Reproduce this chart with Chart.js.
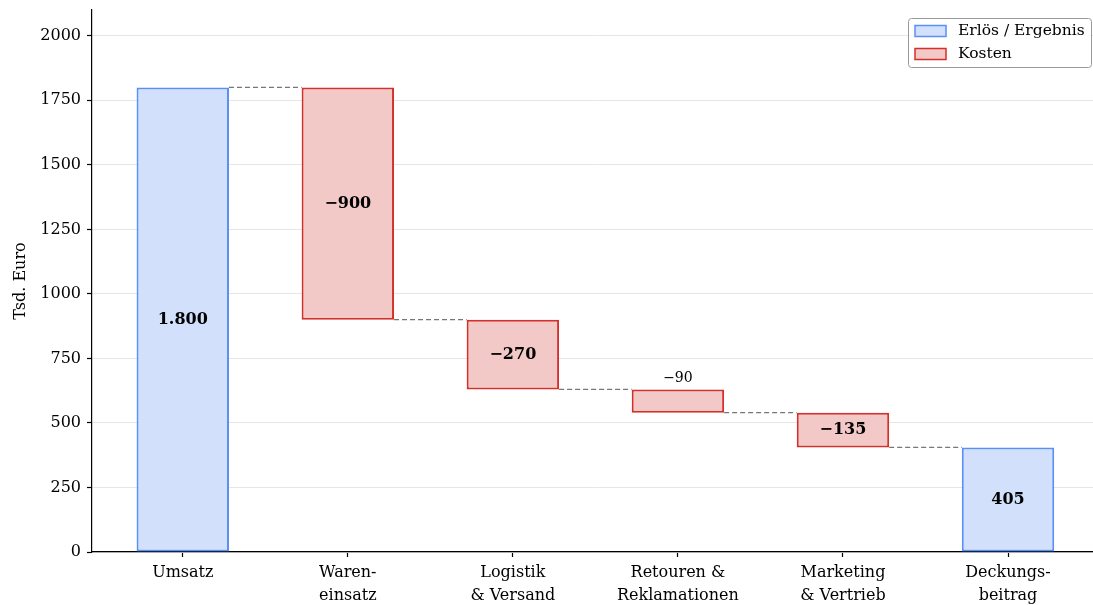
<!DOCTYPE html>
<html lang="de">
<head>
<meta charset="utf-8">
<title>Deckungsbeitrag</title>
<script src="https://cdn.jsdelivr.net/npm/chart.js@4.4.1/dist/chart.umd.min.js"></script>
<style>
  html, body { margin: 0; padding: 0; background: #fff; }
  #wrap { width: 1093px; height: 605px; }
</style>
</head>
<body>
<div id="wrap"><canvas id="chart" width="1093" height="605"></canvas></div>
<script>
// ==========================================
// DATEN
// ==========================================
const kategorien = [
  ['Umsatz'],
  ['Waren-', 'einsatz'],
  ['Logistik', '& Versand'],
  ['Retouren &', 'Reklamationen'],
  ['Marketing', '& Vertrieb'],
  ['Deckungs-', 'beitrag']
];
const werte = [1800, -900, -270, -90, -135, 405];
const istSumme = [true, false, false, false, false, true];   // true = Erlös / Ergebnis
const yTicks = [0, 250, 500, 750, 1000, 1250, 1500, 1750, 2000];
const yMax = 2100;

const FONT = "'DejaVu Serif', serif";
const BLAU = { fill: '#d2e0fc', rand: '#5a8ff5' };
const ROT = { fill: '#f2c9c7', rand: '#d42f2a' };

// Laufende Summe -> schwebende Balken [von, bis]
const spannen = [];
let stand = 0;
werte.forEach((w, i) => {
  if (istSumme[i]) {
    spannen.push([0, w]);
    stand = w;
  } else {
    spannen.push([stand, stand + w]);
    stand += w;
  }
});

const erloesDaten = [];
const kostenDaten = [];
spannen.forEach((s, i) => {
  (istSumme[i] ? erloesDaten : kostenDaten).push({ x: i, y: s });
});

// Gestrichelte Verbinder zwischen den Balken (null trennt die Segmente)
const halbeBreite = 0.28;
const verbinder = [];
for (let i = 0; i < spannen.length - 1; i++) {
  const niveau = spannen[i][1];
  verbinder.push({ x: i + halbeBreite, y: niveau });
  verbinder.push({ x: i + 1 - halbeBreite, y: niveau });
  verbinder.push({ x: i + 0.5, y: null });
}

function formatWert(w) {
  const betrag = Math.abs(w).toLocaleString('de-DE');
  return (w < 0 ? '\u2212' : '') + betrag;
}

// keine automatischen Randabstände der Achsen
function ohneRand(s) {
  s.paddingTop = 0;
  s.paddingBottom = 0;
  s.paddingLeft = 0;
  s.paddingRight = 0;
}

// ==========================================
// PLUGINS: Beschriftung + Legende
// ==========================================
const wertLabels = {
  id: 'wertLabels',
  afterDatasetsDraw(chart) {
    const ctx = chart.ctx;
    const xs = chart.scales.x, ys = chart.scales.y;
    ctx.save();
    ctx.fillStyle = '#000';
    ctx.textAlign = 'center';
    ctx.textBaseline = 'middle';
    spannen.forEach((s, i) => {
      const x = xs.getPixelForValue(i);
      const yA = ys.getPixelForValue(s[0]);
      const yB = ys.getPixelForValue(s[1]);
      const hoehe = Math.abs(yA - yB);
      const text = formatWert(werte[i]);
      if (hoehe < 30) {
        // zu schmal: Wert oberhalb des Balkens
        ctx.font = '14px ' + FONT;
        ctx.fillText(text, x, Math.min(yA, yB) - 11);
      } else {
        ctx.font = 'bold 16px ' + FONT;
        ctx.fillText(text, x, (yA + yB) / 2);
      }
    });
    ctx.restore();
  }
};

const legendeBox = {
  id: 'legendeBox',
  afterDraw(chart) {
    const ctx = chart.ctx;
    const area = chart.chartArea;
    const eintraege = chart.data.datasets.filter(d => d.type !== 'line');
    const w = 183, h = 49;
    const x0 = area.right - w - 2, y0 = 18;
    ctx.save();
    ctx.beginPath();
    ctx.roundRect(x0 + 0.5, y0 + 0.5, w, h, 3);
    ctx.fillStyle = 'rgba(255,255,255,0.85)';
    ctx.fill();
    ctx.strokeStyle = '#999';
    ctx.lineWidth = 1;
    ctx.stroke();
    ctx.font = '15.5px ' + FONT;
    ctx.textBaseline = 'middle';
    eintraege.forEach((d, k) => {
      const yc = y0 + 13 + k * 23;
      ctx.fillStyle = d.backgroundColor;
      ctx.fillRect(x0 + 7, yc - 5.5, 31, 11);
      ctx.strokeStyle = d.borderColor;
      ctx.lineWidth = 1.5;
      ctx.strokeRect(x0 + 7, yc - 5.5, 31, 11);
      ctx.fillStyle = '#000';
      ctx.fillText(d.label, x0 + 50, yc);
    });
    ctx.restore();
  }
};

// ==========================================
// DIAGRAMM
// ==========================================
new Chart(document.getElementById('chart').getContext('2d'), {
  type: 'bar',
  data: {
    datasets: [
      {
        label: 'Erlös / Ergebnis',
        data: erloesDaten,
        backgroundColor: BLAU.fill,
        borderColor: BLAU.rand,
        borderWidth: 2,
        borderSkipped: false,
        grouped: false,
        barPercentage: 0.56,
        categoryPercentage: 1
      },
      {
        label: 'Kosten',
        data: kostenDaten,
        backgroundColor: ROT.fill,
        borderColor: ROT.rand,
        borderWidth: 2,
        borderSkipped: false,
        grouped: false,
        barPercentage: 0.56,
        categoryPercentage: 1
      },
      {
        type: 'line',
        label: 'Verbinder',
        data: verbinder,
        borderColor: '#777',
        borderWidth: 1.2,
        borderDash: [5, 3],
        pointRadius: 0,
        spanGaps: false,
        fill: false
      }
    ]
  },
  options: {
    responsive: false,
    animation: false,
    layout: { padding: { top: 10, right: 0, left: 0, bottom: 0 } },
    plugins: {
      legend: { display: false },
      tooltip: { enabled: false }
    },
    scales: {
      x: {
        type: 'linear',
        min: -0.55,
        max: 5.515,
        offset: false,
        afterBuildTicks: s => { s.ticks = kategorien.map((_, i) => ({ value: i })); },
        afterFit: s => { s.height = 53; ohneRand(s); },
        grid: { offset: false, drawOnChartArea: false, tickLength: 5, tickColor: '#000', tickWidth: 1.2 },
        border: { color: '#000', width: 1.2 },
        ticks: {
          color: '#000',
          padding: 5,
          maxRotation: 0,
          autoSkip: false,
          font: { family: FONT, size: 16, lineHeight: 1.4 },
          callback: v => kategorien[v]
        }
      },
      y: {
        min: 0,
        max: yMax,
        afterBuildTicks: s => { s.ticks = yTicks.map(v => ({ value: v })); },
        afterFit: s => { s.width = 92; ohneRand(s); },
        grid: { color: '#e6e6e6', lineWidth: 1, tickLength: 5, tickColor: '#000', tickWidth: 1.2 },
        border: { color: '#000', width: 1.2 },
        ticks: {
          color: '#000',
          padding: 6,
          font: { family: FONT, size: 16 },
          callback: v => String(v)
        },
        title: {
          display: true,
          text: 'Tsd. Euro',
          color: '#000',
          padding: { top: 11, bottom: 0 },
          font: { family: FONT, size: 16 }
        }
      }
    }
  },
  plugins: [wertLabels, legendeBox]
});
</script>
</body>
</html>
